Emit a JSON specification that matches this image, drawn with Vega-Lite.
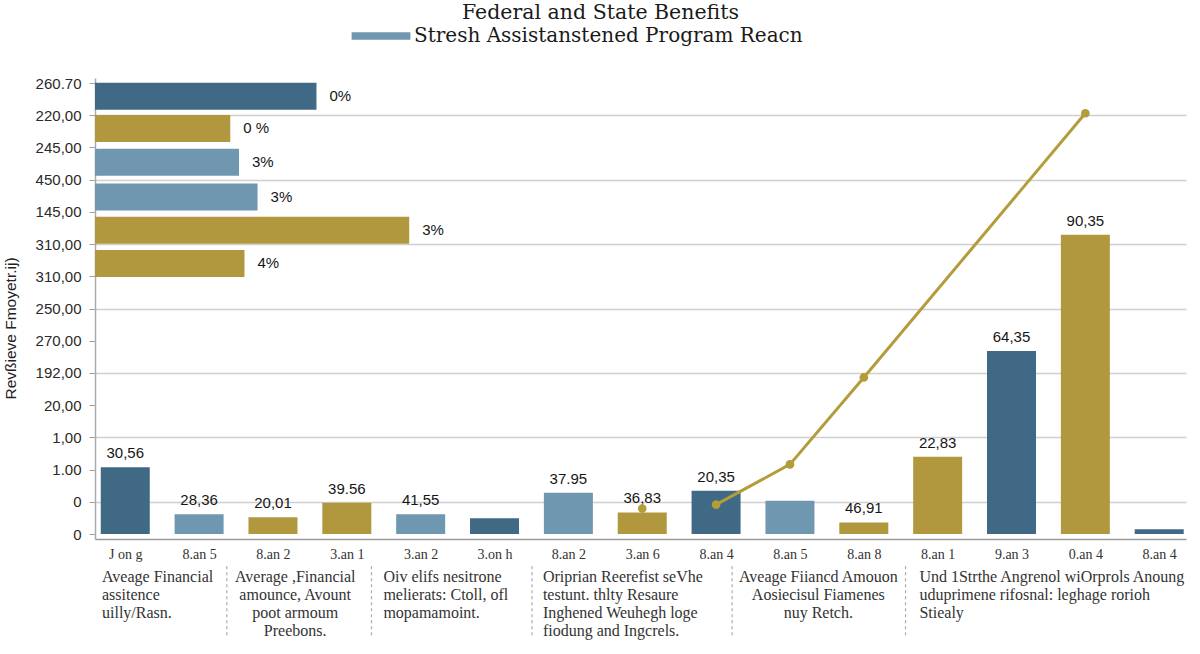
{
  "$schema": "https://vega.github.io/schema/vega-lite/v6.json",
  "autosize": {"type": "none"},
  "padding": {"left": 95, "top": 78, "right": 14, "bottom": 115},
  "width": 1091,
  "height": 461,
  "background": "white",
  "config": {"view": {"stroke": null}, "font": "Liberation Sans"},
  "title": {
    "text": "Federal and State Benefits",
    "font": "DejaVu Serif", "fontSize": 20.5, "fontWeight": "normal", "color": "#1a1a1a",
    "anchor": "middle", "dx": -40, "offset": 3
  },
  "datasets": {
    "bars": [
      {"idx": 1, "shade": "dark", "value": 2.07, "label": "30,56"},
      {"idx": 2, "shade": "light", "value": 0.61, "label": "28,36"},
      {"idx": 3, "shade": "gold", "value": 0.52, "label": "20,01"},
      {"idx": 4, "shade": "gold", "value": 0.97, "label": "39.56"},
      {"idx": 5, "shade": "light", "value": 0.61, "label": "41,55"},
      {"idx": 6, "shade": "dark", "value": 0.49, "label": ""},
      {"idx": 7, "shade": "light", "value": 1.28, "label": "37.95"},
      {"idx": 8, "shade": "gold", "value": 0.67, "label": "36,83", "dot": 0.79},
      {"idx": 9, "shade": "dark", "value": 1.34, "label": "20,35", "trend": 0.91, "dot": 0.91},
      {"idx": 10, "shade": "light", "value": 1.03, "label": "", "trend": 2.16, "dot": 2.16},
      {"idx": 11, "shade": "gold", "value": 0.36, "label": "46,91", "trend": 4.86, "dot": 4.86},
      {"idx": 12, "shade": "gold", "value": 2.40, "label": "22,83"},
      {"idx": 13, "shade": "dark", "value": 5.68, "label": "64,35"},
      {"idx": 14, "shade": "gold", "value": 9.29, "label": "90,35", "trend": 13.06, "dot": 13.06},
      {"idx": 15, "shade": "dark", "value": 0.15, "label": ""}
    ],
    "reach": [
      {"row": 1, "shade": "dark", "reach": 20.3, "slot": 13.59, "label": "0%"},
      {"row": 2, "shade": "gold", "reach": 12.4, "slot": 12.59, "label": "0 %"},
      {"row": 3, "shade": "light", "reach": 13.2, "slot": 11.54, "label": "3%"},
      {"row": 4, "shade": "light", "reach": 14.9, "slot": 10.46, "label": "3%"},
      {"row": 5, "shade": "gold", "reach": 28.8, "slot": 9.43, "label": "3%"},
      {"row": 6, "shade": "gold", "reach": 13.7, "slot": 8.40, "label": "4%"}
    ],
    "dividers": [
      {"pos": 2.375}, {"pos": 4.334}, {"pos": 6.507}, {"pos": 9.217}, {"pos": 11.565}
    ],
    "notesLeft": [
      {"start": 0.685, "note": "Aveage Financial\nassitence\nuilly/Rasn."},
      {"start": 4.495, "note": "Oiv elifs nesitrone\nmelierats: Ctoll, ofl\nmopamamoint."},
      {"start": 6.655, "note": "Oriprian Reerefist seVhe\ntestunt. thlty Resaure\nInghened Weuhegh loge\nfiodung and Ingcrels."},
      {"start": 11.753, "note": "Und 1Strthe Angrenol wiOrprols Anoung\nuduprimene rifosnal: leghage rorioh\nStiealy"}
    ],
    "notesCentered": [
      {"center": 3.301, "note": "Average ,Financial\namounce, Avount\npoot armoum\nPreebons."},
      {"center": 10.384, "note": "Aveage Fiiancd Amouon\nAosiecisul Fiamenes\nnuy Retch."}
    ]
  },
  "resolve": {"scale": {"x": "independent"}},
  "layer": [
    {
      "layer": [
        {
          "data": {"name": "bars"},
          "mark": {"type": "bar", "orient": "vertical", "size": 49},
          "encoding": {
            "x": {
              "field": "idx", "type": "quantitative",
              "scale": {"domain": [0.658, 15.295], "nice": false, "zero": false},
              "axis": {
                "values": [1, 2, 3, 4, 5, 6, 7, 8, 9, 10, 11, 12, 13, 14, 15],
                "tickCount": 30,
                "labelExpr": "['J on g','8.an 5','8.an 2','3.an 1','3.an 2','3.on h','8.an 2','3.an 6','8.an 4','8.an 5','8.an 8','8.an 1','9.an 3','0.an 4','8.an 4'][datum.value - 1]",
                "grid": false, "ticks": false,
                "domainColor": "#9a9a9a", "domainWidth": 1.5,
                "labelFont": "Liberation Serif", "labelFontSize": 14, "labelColor": "#333",
                "labelPadding": 8, "labelOverlap": false, "labelFlush": false, "labelBound": false,
                "title": null
              }
            },
            "y": {
              "field": "value", "type": "quantitative",
              "scale": {"domain": [0, 14], "nice": false, "zero": false},
              "axis": {
                "values": [0, 1, 2, 3, 4, 5, 6, 7, 8, 9, 10, 11, 12, 13, 14],
                "tickCount": 20,
                "labelExpr": "['0','0','1.00','1,00','20,00','192,00','270,00','250,00','310,00','310,00','145,00','450,00','245,00','220,00','260.70'][datum.value]",
                "labelFont": "Liberation Sans", "labelFontSize": 15, "labelColor": "#2a2a2a",
                "labelPadding": 8, "labelOverlap": false,
                "tickColor": "#a0a0a0", "tickSize": 6,
                "domainColor": "#aaaaaa", "domainWidth": 1.5,
                "gridColor": "#cfcfcf", "gridWidth": 1.5,
                "gridOpacity": {"condition": {"test": "datum.value % 2 == 1", "value": 1}, "value": 0},
                "title": "Revßieve Fmoyetr.ij)",
                "titleFont": "Liberation Sans", "titleFontSize": 15.5, "titleFontWeight": "normal",
                "titleColor": "#222", "titleX": -85, "titleY": 250, "titleBaseline": "middle"
              }
            },
            "color": {
              "field": "shade", "type": "nominal",
              "scale": {"domain": ["dark", "light", "gold"], "range": ["#3f6985", "#6f97b0", "#b1983f"]},
              "legend": {
                "orient": "none", "legendX": 276, "legendY": -52,
                "values": ["light"],
                "labelExpr": "'Stresh Assistanstened Program Reacn'",
                "labelFont": "DejaVu Serif", "labelFontSize": 20, "labelColor": "#1a1a1a",
                "labelLimit": 0, "labelOffset": 23,
                "symbolType": "M-8,-1H8V1H-8Z", "symbolSize": 54, "symbolStrokeWidth": 0,
                "title": null,
                "encode": {"symbols": {"update": {"fill": {"value": "#5b7e99"}}}}
              }
            }
          }
        },
        {
          "data": {"name": "bars"},
          "mark": {"type": "text", "baseline": "bottom", "align": "center", "dy": -6, "fontSize": 15, "color": "#161616", "font": "Liberation Sans"},
          "encoding": {
            "x": {"field": "idx", "type": "quantitative"},
            "y": {"field": "value", "type": "quantitative"},
            "text": {"field": "label", "type": "nominal"}
          }
        },
        {
          "data": {"name": "bars"},
          "transform": [{"filter": "datum.trend != null"}],
          "mark": {"type": "line", "color": "#b39c3a", "strokeWidth": 3},
          "encoding": {
            "x": {"field": "idx", "type": "quantitative"},
            "y": {"field": "trend", "type": "quantitative"}
          }
        },
        {
          "data": {"name": "bars"},
          "transform": [{"filter": "datum.dot != null"}],
          "mark": {"type": "point", "filled": true, "color": "#b39c3a", "size": 75, "opacity": 1},
          "encoding": {
            "x": {"field": "idx", "type": "quantitative"},
            "y": {"field": "dot", "type": "quantitative"}
          }
        },
        {
          "data": {"name": "dividers"},
          "mark": {"type": "rule", "color": "#aaaaaa", "strokeWidth": 1.2, "strokeDash": [3, 3]},
          "encoding": {
            "x": {"field": "pos", "type": "quantitative"},
            "y": {"datum": -1.0, "type": "quantitative"},
            "y2": {"datum": -3.2}
          }
        },
        {
          "data": {"name": "notesLeft"},
          "mark": {"type": "text", "align": "left", "baseline": "top", "lineBreak": "\n", "lineHeight": 17.8, "font": "Liberation Serif", "fontSize": 16, "color": "#333"},
          "encoding": {
            "x": {"field": "start", "type": "quantitative"},
            "y": {"datum": -1.1, "type": "quantitative"},
            "text": {"field": "note", "type": "nominal"}
          }
        },
        {
          "data": {"name": "notesCentered"},
          "mark": {"type": "text", "align": "center", "baseline": "top", "lineBreak": "\n", "lineHeight": 17.8, "font": "Liberation Serif", "fontSize": 16, "color": "#333"},
          "encoding": {
            "x": {"field": "center", "type": "quantitative"},
            "y": {"datum": -1.1, "type": "quantitative"},
            "text": {"field": "note", "type": "nominal"}
          }
        }
      ]
    },
    {
      "data": {"name": "reach"},
      "layer": [
        {
          "mark": {"type": "bar", "orient": "horizontal", "size": 27},
          "encoding": {
            "x": {"field": "reach", "type": "quantitative", "scale": {"domain": [0, 100], "nice": false}, "axis": null},
            "y": {"field": "slot", "type": "quantitative"},
            "color": {
              "field": "shade", "type": "nominal",
              "scale": {"domain": ["dark", "light", "gold"], "range": ["#3f6985", "#6f97b0", "#b1983f"]},
              "legend": null
            }
          }
        },
        {
          "mark": {"type": "text", "align": "left", "baseline": "middle", "dx": 13, "fontSize": 15, "color": "#161616", "font": "Liberation Sans"},
          "encoding": {
            "x": {"field": "reach", "type": "quantitative", "axis": null},
            "y": {"field": "slot", "type": "quantitative"},
            "text": {"field": "label", "type": "nominal"}
          }
        }
      ]
    }
  ]
}
